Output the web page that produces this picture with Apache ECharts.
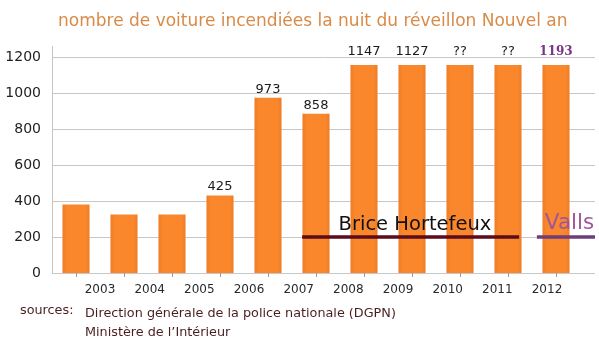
<!DOCTYPE html>
<html>
<head>
<meta charset="utf-8">
<script src="https://cdn.jsdelivr.net/npm/echarts@6/dist/echarts.min.js"></script>
<style>
  html, body { margin: 0; padding: 0; background: #fff; }
  #main { width: 599px; height: 350px; }
</style>
</head>
<body>
<div id="main"></div>
<script>
// bars as drawn (11 bars), labels as printed above them
const barValues = [380, 325, 325, 430, 973, 885, 1155, 1155, 1155, 1155, 1155];
const barLabels = ['', '', '', '425', '973', '858', '1147', '1127', '??', '??', '1193'];
const years = ['2003', '2004', '2005', '2006', '2007', '2008', '2009', '2010', '2011', '2012'];
const yTicks = [0, 200, 400, 600, 800, 1000, 1200];

// ministers periods, in bar units on the x value axis (0 = first bar)
const hortefeux = [[4.71, 200], [7.06, 200], [9.23, 200]];
const valls = [[9.6, 200], [10.28, 200], [10.81, 200]];

const font = 'DejaVu Sans';

var myChart = echarts.init(document.getElementById('main'));

const barData = barValues.map(function (v, i) {
  const item = { value: v, label: { formatter: barLabels[i], distance: v > 1100 ? 7 : 2 } };
  if (i === barValues.length - 1) {
    item.label.color = '#7a3586';
    item.label.fontWeight = 'bold';
    item.label.fontFamily = 'DejaVu Serif';
    item.label.fontSize = 12;
  }
  return item;
});

const grids = [
  { left: 52, right: 4, top: 46.2, bottom: 77 },
  { left: 52, right: 19, top: 46.2, bottom: 77 },
  { left: 100, right: 52, top: 46.2, bottom: 77 }
];

const minister = (data, name, color, textColor, size) => ({
  type: 'line', xAxisIndex: 0, yAxisIndex: 0,
  data: data.map((d, i) => ({
    value: d,
    label: { show: i === 1, formatter: name }
  })),
  symbol: 'circle', symbolSize: 0.5, showSymbol: true, showAllSymbol: true,
  itemStyle: { color: 'rgba(0,0,0,0)' },
  lineStyle: { color: color, width: 3.5 },
  label: { position: 'top', distance: 2, fontFamily: font, fontSize: size, color: textColor },
  labelLayout: { hideOverlap: false },
  z: 3
});

myChart.setOption({
  animation: false,
  backgroundColor: '#fff',
  grid: grids,
  xAxis: [
    { gridIndex: 0, type: 'value', min: -0.5, max: 10.81, show: false },
    {
      gridIndex: 1, type: 'category', data: barValues.map((v, i) => 'b' + i),
      axisLine: { show: false },
      axisTick: { show: true, alignWithLabel: true, length: 4, lineStyle: { color: '#999' } },
      axisLabel: { show: false }
    },
    {
      gridIndex: 2, type: 'category', boundaryGap: false, data: years,
      axisLine: { show: false }, axisTick: { show: false },
      axisLabel: { fontFamily: font, fontSize: 12, color: '#2a2a2a', margin: 11 }
    }
  ],
  yAxis: [
    {
      gridIndex: 0, type: 'value', min: 0, max: 1260, interval: 200,
      axisLine: { show: true, onZero: false, lineStyle: { color: '#c4c4c4' } },
      axisTick: { show: false },
      axisLabel: {
        fontFamily: font, fontSize: 14, color: '#222', margin: 11, showMaxLabel: false,
        formatter: function (v) { return yTicks.indexOf(v) >= 0 ? v : ''; }
      },
      splitLine: { showMaxLine: false, lineStyle: { color: '#c8c8c8' } }
    },
    { gridIndex: 1, type: 'value', min: 0, max: 1260, show: false },
    { gridIndex: 2, type: 'value', min: 0, max: 1260, show: false }
  ],
  series: [
    {
      type: 'bar', xAxisIndex: 1, yAxisIndex: 1, data: barData, barWidth: 27,
      itemStyle: {
        color: new echarts.graphic.LinearGradient(0, 0, 1, 0, [
          { offset: 0, color: '#ee7a22' },
          { offset: 0.15, color: '#fa872c' },
          { offset: 0.85, color: '#fa872c' },
          { offset: 1, color: '#ee7a22' }
        ])
      },
      label: { show: true, position: 'top', fontFamily: font, fontSize: 13, color: '#1a1a1a' }
    },
    minister(hortefeux, 'Brice Hortefeux', '#5c0c1c', '#111', 19.5),
    minister(valls, 'Valls', '#6e3e7c', '#a0579a', 21.5)
  ],
  graphic: [
    {
      type: 'text', left: 58, top: 13,
      style: { text: 'nombre de voiture incendiées la nuit du réveillon Nouvel an', fill: '#d98a47', font: '17px "DejaVu Sans"' }
    },
    {
      type: 'text', left: 20, top: 304,
      style: { text: 'sources:', fill: '#4a1e1e', font: '12.8px "DejaVu Sans"' }
    },
    {
      type: 'text', left: 85, top: 304,
      style: { text: 'Direction générale de la police nationale (DGPN)\nMinistère de l\u2019Intérieur', fill: '#4a1e1e', font: '12.8px "DejaVu Sans"', lineHeight: 19 }
    }
  ]
});
</script>
</body>
</html>
